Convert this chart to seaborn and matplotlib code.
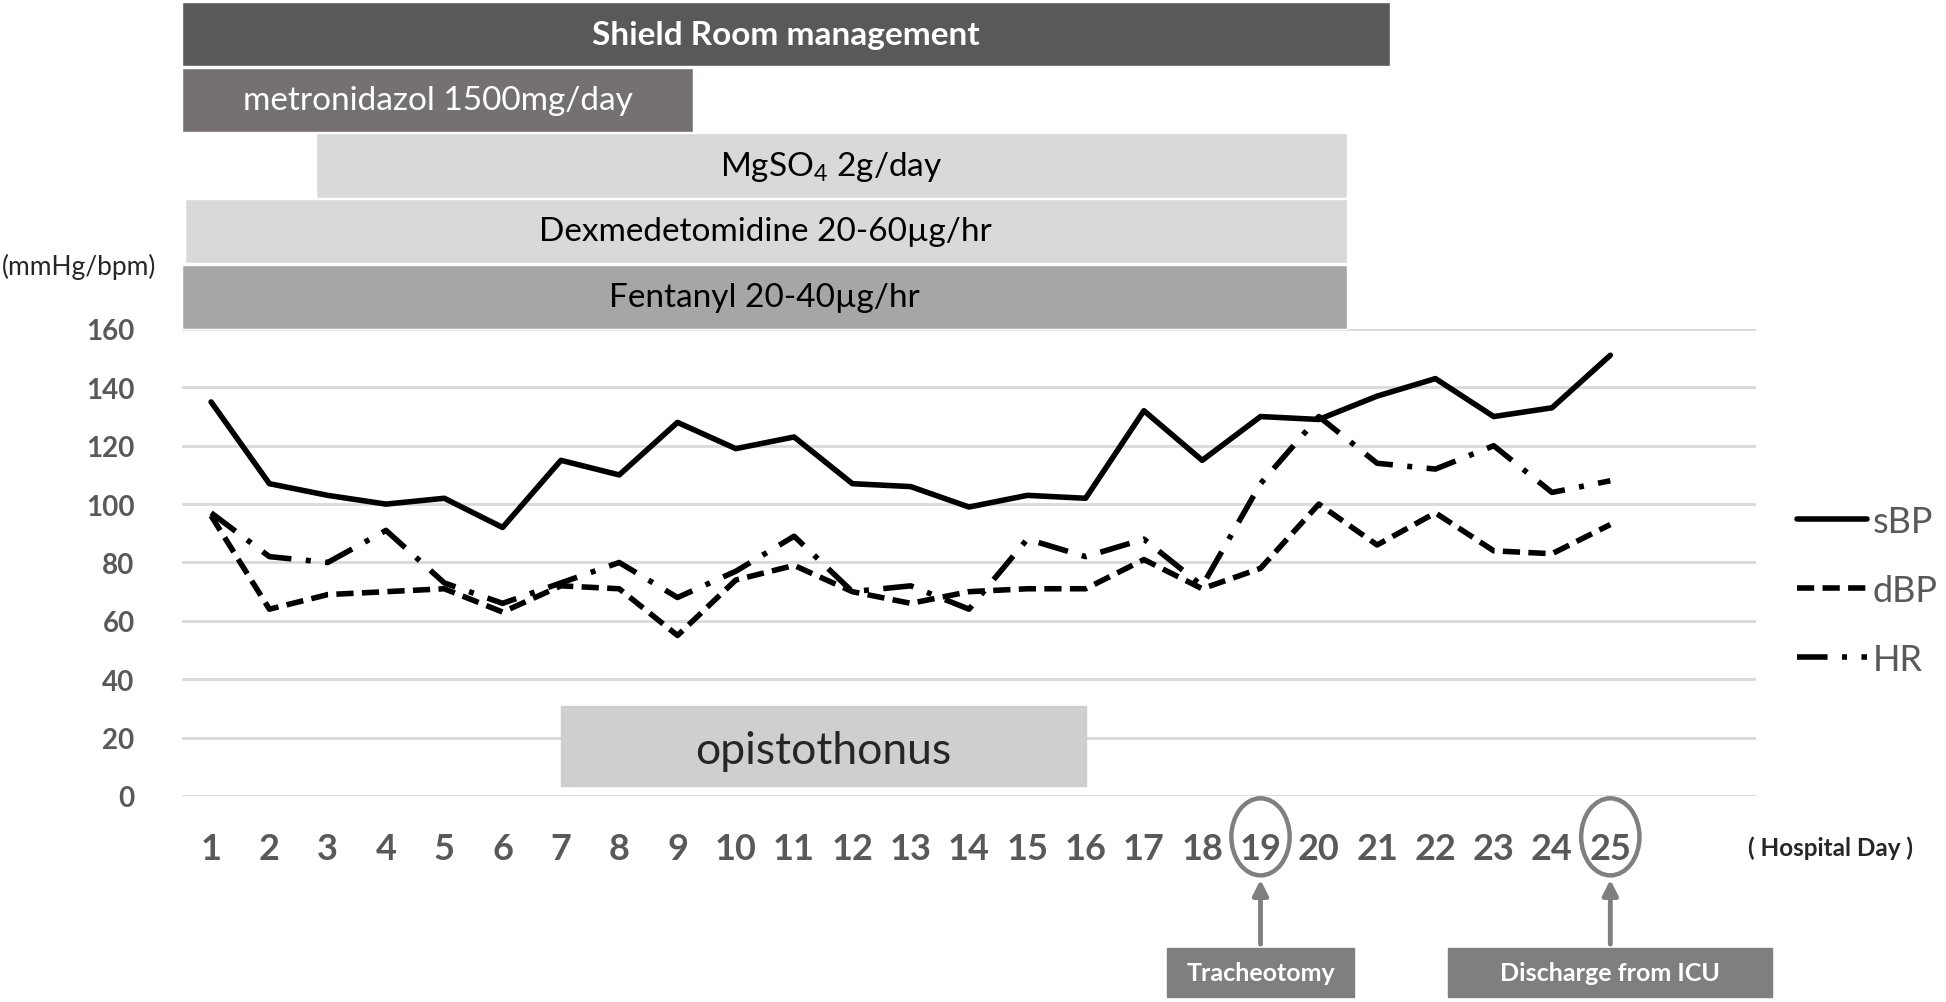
import pandas as pd
import seaborn as sns
import matplotlib.pyplot as plt
from matplotlib.patches import Ellipse, Rectangle

# vital signs per hospital day
days = list(range(1, 26))
sbp = [135, 107, 103, 100, 102, 92, 115, 110, 128, 119, 123, 107, 106, 99, 103,
       102, 132, 115, 130, 129, 137, 143, 130, 133, 151]
dbp = [96, 64, 69, 70, 71, 63, 72, 71, 55, 74, 79, 70, 66, 70, 71,
       71, 81, 71, 78, 100, 86, 97, 84, 83, 93]
hr = [97, 82, 80, 91, 73, 66, 73, 80, 68, 77, 89, 70, 72, 64, 88,
      82, 88, 72, 107, 130, 114, 112, 120, 104, 108]

# treatment bars (bottom row first), day extents
treat_labels = ["Fentanyl 20-40µg/hr", "Dexmedetomidine 20-60µg/hr", "MgSO$_4$ 2g/day",
                "metronidazol 1500mg/day", "Shield Room management"]
treat_start = [0.5, 0.55, 2.8, 0.5, 0.5]
treat_end = [20.48, 20.48, 20.48, 9.27, 21.22]
treat_colors = ["#a6a6a6", "#d9d9d9", "#d9d9d9", "#767171", "#595959"]
treat_text = ["black", "black", "black", "white", "white"]
treat_bold = [False, False, False, False, True]

event_days = [19, 25]
event_labels = ["Tracheotomy", "Discharge from ICU"]
event_halfwidth = [1.6, 2.78]

sns.set_style("white")
plt.rcParams['font.family'] = ['Lato', 'DejaVu Sans']
plt.rcParams['mathtext.fontset'] = 'custom'
plt.rcParams['mathtext.rm'] = 'Lato'
plt.rcParams['mathtext.it'] = 'Lato'

df = pd.DataFrame({'day': days * 3,
                   'value': sbp + dbp + hr,
                   'series': ['sBP'] * 25 + ['dBP'] * 25 + ['HR'] * 25})

fig = plt.figure(figsize=(19.46, 10.03), dpi=100)
ax = fig.add_axes([0.0935, 0.2054, 0.8089, 0.4656])

sns.lineplot(data=df, x='day', y='value', style='series', color='black',
             dashes={'sBP': '', 'dBP': (3.1, 1.5), 'HR': (5.5, 2.6, 0.9, 2.6)},
             linewidth=4, ax=ax, zorder=3)

# opistothonus box
ax.add_patch(Rectangle((7, 3.5), 9, 27.5, color='#d0cece', zorder=1))
ax.text(11.5, 15.5, "opistothonus", fontsize=32, ha='center', va='center', zorder=2)

# treatment bars above the plot
for i in range(len(treat_labels)):
    yc = 171 + 22.5 * i
    bars = ax.barh(yc, treat_end[i] - treat_start[i], left=treat_start[i], height=22,
                   color=treat_colors[i], zorder=1)
    for b in bars:
        b.set_clip_on(False)
    ax.text((treat_start[i] + treat_end[i]) / 2, yc, treat_labels[i], ha='center', va='center',
            fontsize=24, color=treat_text[i], fontweight='bold' if treat_bold[i] else 'normal')

ax.set_xlim(0.5, 27.5)
ax.set_ylim(0, 160)
ax.set_xticks(days)
ax.set_yticks(range(0, 161, 20))
ax.grid(axis='y', color='#d9d9d9', linewidth=2)
ax.grid(axis='x', visible=False)
ax.set_axisbelow(True)
for s in ax.spines.values():
    s.set_visible(False)
ax.tick_params(axis='x', length=0, pad=26, labelsize=26, labelcolor='#595959')
ax.tick_params(axis='y', length=0, pad=34, labelsize=20, labelcolor='#595959')
for t in ax.get_xticklabels() + ax.get_yticklabels():
    t.set_fontweight('bold')
ax.set_xlabel('')
ax.set_ylabel('')

h, l = ax.get_legend_handles_labels()
ax.legend(h, l, loc='center left', bbox_to_anchor=(1.026, 0.44), frameon=False,
          fontsize=26, labelcolor='#595959', handlelength=1.95, handletextpad=0.15,
          labelspacing=1.0, borderpad=0, borderaxespad=0)

fig.text(0.001, 1 - 267 / 1003, "(mmHg/bpm)", fontsize=19, ha='left', va='center')
fig.text(1748 / 1946, 1 - 848 / 1003, "( Hospital Day )", fontsize=17.5, fontweight='bold',
         ha='left', va='center')

# events: circled day, arrow, label box
for d, lab, hw in zip(event_days, event_labels, event_halfwidth):
    ax.add_patch(Ellipse((d, -14), 1.0, 26.4, fill=False, edgecolor='#7f7f7f',
                         linewidth=3.2, clip_on=False))
    ax.annotate('', xy=(d, -27.7), xytext=(d, -51.7), xycoords='data',
                arrowprops=dict(arrowstyle='-|>,head_length=0.9,head_width=0.45',
                                color='#7f7f7f', lw=3.5), annotation_clip=False)
    ax.add_patch(Rectangle((d - hw, -69), 2 * hw, 17, color='#7f7f7f', clip_on=False))
    ax.text(d, -60.5, lab, fontsize=18, fontweight='bold', color='white',
            ha='center', va='center')

fig.savefig('out.png', dpi=100)
